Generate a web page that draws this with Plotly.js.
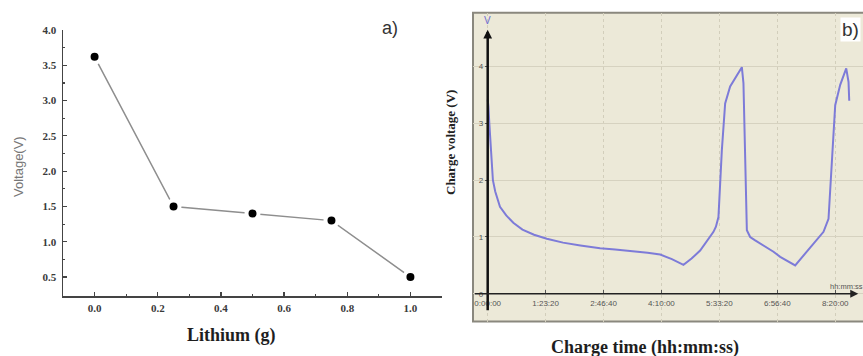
<!DOCTYPE html>
<html>
<head>
<meta charset="utf-8">
<script src="https://cdn.plot.ly/plotly-3.0.1.min.js"></script>
<style>
  html, body { margin: 0; padding: 0; background: #ffffff; }
  #chart { width: 863px; height: 356px; }
</style>
</head>
<body>
<div id="chart"></div>
<script>
// Panel a) open-circuit voltage versus lithium mass
const lithiumMass = [0.0, 0.25, 0.5, 0.75, 1.0];
const cellVoltage = [3.62, 1.50, 1.40, 1.30, 0.50];

// Panel b) charge voltage over time (seconds from start)
const chargeTimeSec = [0, 60, 140, 300, 450, 650, 1060, 1600, 2210, 3000, 4000, 5100,
  6500, 8000, 9700, 11000, 12560, 13800, 14890, 15900, 16900, 17600, 18340, 19000,
  19490, 19700, 19920, 20213, 20498, 20930, 21508, 21940, 22078, 22225, 22372, 22657,
  23090, 24670, 25249, 26544, 27700, 28989, 29421, 29714, 29999, 30431, 30950, 31149, 31209];
const chargeVolt = [3.42, 3.30, 3.00, 2.40, 2.00, 1.80, 1.53, 1.38, 1.25, 1.13, 1.04, 0.97,
  0.90, 0.85, 0.80, 0.78, 0.75, 0.72, 0.69, 0.61, 0.51, 0.62, 0.76, 0.95,
  1.09, 1.18, 1.35, 2.53, 3.35, 3.65, 3.85, 3.99, 3.71, 2.53, 1.12, 1.00,
  0.94, 0.74, 0.65, 0.50, 0.78, 1.09, 1.32, 2.44, 3.32, 3.68, 3.97, 3.73, 3.40];

const timeTickVals = [0, 5000, 10000, 15000, 20000, 25000, 30000];
const timeTickText = ['0:00:00', '1:23:20', '2:46:40', '4:10:00', '5:33:20', '6:56:40', '8:20:00'];
const voltTickVals = [0, 1, 2, 3, 4];

const W = 863, H = 356;
const px = v => v / W;          // horizontal pixel -> paper
const py = v => 1 - v / H;      // vertical pixel -> paper

const serif = 'Liberation Serif, Times New Roman, serif';
const sans = 'Liberation Sans, Arial, sans-serif';

const traces = [
  {
    x: lithiumMass, y: cellVoltage,
    xaxis: 'x', yaxis: 'y',
    mode: 'lines+markers',
    line: { color: '#8e8e8e', width: 1.5 },
    marker: { size: 12, color: '#000000', line: { color: '#ffffff', width: 4 } },
    hoverinfo: 'skip', showlegend: false
  },
  {
    x: chargeTimeSec, y: chargeVolt,
    xaxis: 'x2', yaxis: 'y2',
    mode: 'lines',
    line: { color: '#7d7bd8', width: 2 },
    hoverinfo: 'skip', showlegend: false
  }
];

// paper-anchored text helper
function label(text, x, y, font, extra) {
  return Object.assign({
    text: text, xref: 'paper', yref: 'paper', x: px(x), y: py(y),
    xanchor: 'center', yanchor: 'middle', showarrow: false, font: font
  }, extra || {});
}

const layout = {
  width: W, height: H,
  margin: { l: 0, r: 0, t: 0, b: 0 },
  paper_bgcolor: '#ffffff',
  plot_bgcolor: 'rgba(0,0,0,0)',
  showlegend: false,
  xaxis: {
    domain: [px(63), px(442)], range: [-0.1, 1.1], anchor: 'y',
    tickvals: [0, 0.2, 0.4, 0.6, 0.8, 1.0], tickformat: '.1f',
    ticks: 'inside', ticklen: 4, tickwidth: 1.2, tickcolor: '#444',
    minor: { tickvals: [0.1, 0.3, 0.5, 0.7, 0.9], ticks: 'inside', ticklen: 2, tickcolor: '#444' },
    showline: true, linecolor: '#444', linewidth: 1.5,
    showgrid: false, zeroline: false,
    tickfont: { family: serif, size: 11, weight: 'bold', color: '#3a3a3a' }, ticklabelstandoff: 1
  },
  yaxis: {
    domain: [py(296), py(30)], range: [0.232, 4.0], anchor: 'x',
    tickvals: [0.5, 1.0, 1.5, 2.0, 2.5, 3.0, 3.5, 4.0], tickformat: '.1f',
    ticks: 'inside', ticklen: 4, tickwidth: 1.2, tickcolor: '#444',
    minor: { tickvals: [0.75, 1.25, 1.75, 2.25, 2.75, 3.25, 3.75], ticks: 'inside', ticklen: 2, tickcolor: '#444' },
    showline: true, linecolor: '#444', linewidth: 1.5,
    showgrid: false, zeroline: false,
    tickfont: { family: serif, size: 11, weight: 'bold', color: '#3a3a3a' }, ticklabelstandoff: 3
  },
  xaxis2: {
    domain: [px(473), 1], range: [-1269, 32398],
    anchor: 'free', position: py(293.3),
    tickvals: timeTickVals, ticktext: timeTickText,
    ticks: 'inside', ticklen: 3, tickcolor: '#555',
    showline: false, zeroline: false,
    showgrid: true, gridcolor: '#d2cebb', griddash: 'dot', gridwidth: 1,
    tickfont: { family: sans, size: 8, color: '#555' }, ticklabelstandoff: 4
  },
  yaxis2: {
    domain: [py(321.5), py(12.7)], range: [-0.489, 4.95],
    anchor: 'free', position: px(487.7),
    tickvals: voltTickVals,
    ticks: 'outside', ticklen: 3, tickcolor: '#555',
    showline: false, zeroline: false,
    showgrid: true, gridcolor: '#d6d2c0', gridwidth: 1,
    tickfont: { family: sans, size: 8, color: '#555' }, ticklabelstandoff: 0
  },
  shapes: [
    // beige chart-recorder frame of panel b)
    {
      type: 'rect', xref: 'paper', yref: 'paper', layer: 'below',
      x0: px(473), x1: px(880), y0: py(321.5), y1: py(12.7),
      fillcolor: '#ece9d8', line: { color: '#8a887e', width: 2 }
    }
  ],
  annotations: [
    label('a)', 390, 28, { family: sans, size: 18, color: '#333' }),
    label('Voltage(V)', 18, 167, { family: sans, size: 13, color: '#777' }, { textangle: -90 }),
    label('<b>Lithium (g)</b>', 231, 335, { family: serif, size: 18, color: '#1e1e1e' }),
    label('<b>Charge voltage (V)</b>', 450, 143, { family: serif, size: 13, color: '#222' }, { textangle: -90 }),
    label('<b>Charge time (hh:mm:ss)</b>', 645, 347, { family: serif, size: 18, color: '#1e1e1e' }),
    label('b)', 840, 29, { family: sans, size: 19, color: '#333' }, { xanchor: 'left', bgcolor: '#ffffff', borderpad: 1 }),
    label('V', 487.5, 21, { family: sans, size: 10, color: '#6c6ad0' }),
    label('hh:mm:ss', 828, 286, { family: sans, size: 7.5, color: '#555' }, { xanchor: 'left' }),
    // vertical voltage axis with arrow
    { text: '', xref: 'x2', yref: 'y2', x: 0, y: 4.65, ax: 0, ay: 282,
      showarrow: true, arrowhead: 2, arrowsize: 0.7, arrowwidth: 2.5, arrowcolor: '#111' },
    // horizontal time axis with arrow
    { text: '', xref: 'x2', yref: 'y2', x: 31986, y: 0, ax: -385, ay: 0,
      showarrow: true, arrowhead: 2, arrowsize: 1, arrowwidth: 1.6, arrowcolor: '#222' }
  ]
};

Plotly.newPlot('chart', traces, layout, { staticPlot: true, displayModeBar: false });
</script>
</body>
</html>
